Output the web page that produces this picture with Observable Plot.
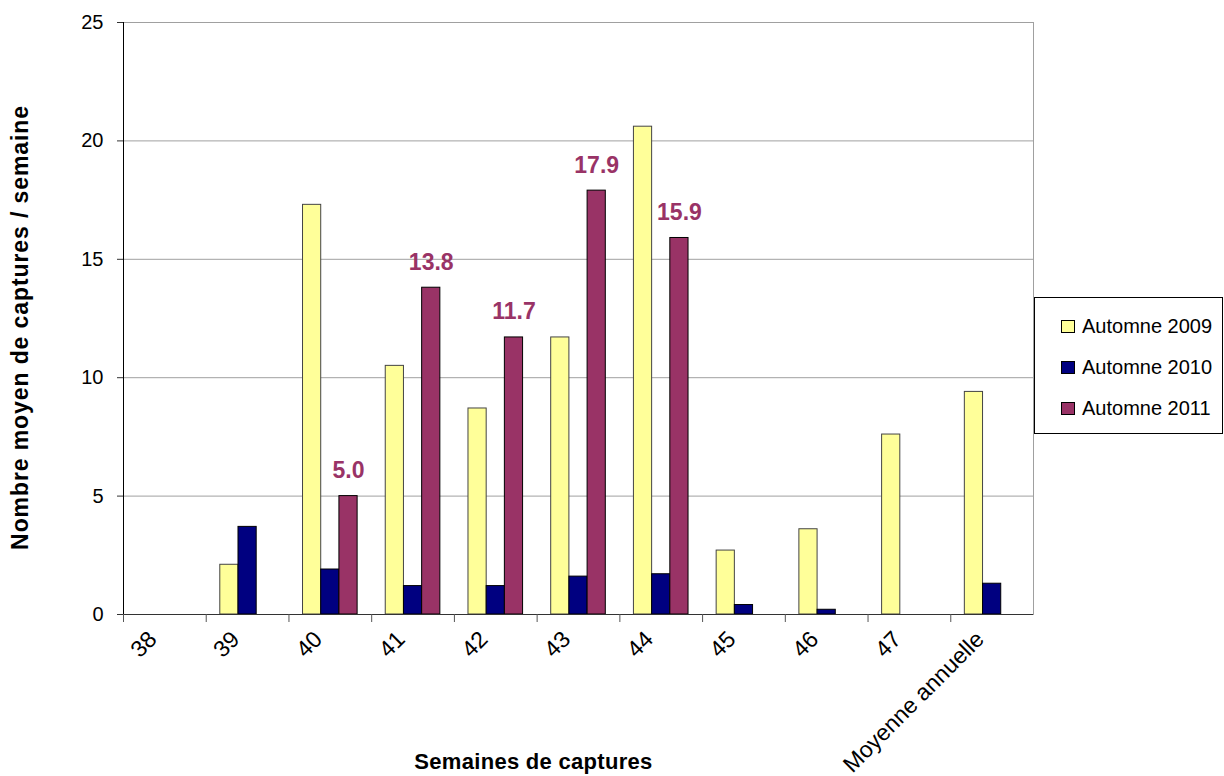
<!DOCTYPE html>
<html><head><meta charset="utf-8">
<script src="https://cdn.jsdelivr.net/npm/d3@7"></script>
<script src="https://cdn.jsdelivr.net/npm/@observablehq/plot@0.6"></script>
<style>
body{margin:0;background:#fff;font-family:"Liberation Sans",Arial,sans-serif;}
#wrap{position:relative;width:1224px;height:776px;overflow:hidden;}
#legend{position:absolute;left:1034px;top:297px;width:189px;height:137px;border:1px solid #000;box-sizing:border-box;background:#fff;}
.item{position:absolute;left:26px;height:20px;display:flex;align-items:center;font-size:20px;color:#000;}
.sw{width:12px;height:11px;border:1px solid #000;margin-right:7px;}
</style></head>
<body><div id="wrap"><div id="chart"></div><div id="legend"></div></div>
<script>
const categories = ["38","39","40","41","42","43","44","45","46","47","Moyenne annuelle"];
const series = ["Automne 2009","Automne 2010","Automne 2011"];
const a2009 = [null, 2.1, 17.3, 10.5, 8.7, 11.7, 20.6, 2.7, 3.6, 7.6, 9.4];
const a2010 = [null, 3.7, 1.9, 1.2, 1.2, 1.6, 1.7, 0.4, 0.2, null, 1.3];
const a2011 = [null, null, 5.0, 13.8, 11.7, 17.9, 15.9, null, null, null, null];
const colors = ["#FFFF99","#000080","#993366"];
const strokes = ["#444","#000","#000"];
const yTicks = [0,5,10,15,20,25];
const yTitle = "Nombre moyen de captures / semaine";
const xTitle = "Semaines de captures";

const values = [a2009, a2010, a2011];
const data = categories.flatMap((c, i) => values.map((arr, k) => ({cat: c, series: series[k], k, value: arr[i]})))
  .filter(d => d.value != null);

const W = 1224, H = 776, mL = 123, mR = 191, mT = 22, mB = 162;
const bw = (W - mL - mR) / categories.length;
const barW = bw * 0.22, off = (bw - 3 * barW) / 2;
const slot = k => ({insetLeft: off + k * barW, insetRight: bw - off - (k + 1) * barW});

const chart = Plot.plot({
  width: W, height: H,
  marginLeft: mL, marginRight: mR, marginTop: mT, marginBottom: mB,
  style: {fontFamily: "Liberation Sans, Arial, sans-serif", fontSize: "20px", color: "#000", background: "#fff", overflow: "visible"},
  x: {domain: categories, padding: 0, round: false, axis: null},
  y: {domain: [0, 25], axis: null},
  marks: [
    Plot.gridY(yTicks.slice(1), {stroke: "#a0a0a0", strokeOpacity: 1}),
    Plot.frame({stroke: "#a0a0a0"}),
    ...series.map((s, k) => Plot.barY(data.filter(d => d.k === k), {
      x: "cat", y: "value", fill: colors[k], stroke: strokes[k], strokeWidth: 1, ...slot(k)
    })),
    Plot.text(data.filter(d => d.k === 2), {
      x: "cat", y: "value", text: d => d.value.toFixed(1), dx: barW, dy: -18,
      lineAnchor: "bottom", fill: "#993366", fontWeight: "bold", fontSize: 23
    }),
    Plot.ruleY([0], {stroke: "#333"}),
    Plot.frame({anchor: "left", stroke: "#000"}),
    Plot.axisY({ticks: yTicks, tickSize: 6, tickPadding: 14, fontSize: 20, label: null, stroke: "#333"}),
    Plot.axisX({tickSize: 8, tickFormat: () => "", dx: -bw / 2, label: null, stroke: "#555"}),
    Plot.axisX({tickSize: 0, tickRotate: -45, tickPadding: 21, dx: -12, fontSize: 23, label: null}),
    Plot.text([yTitle], {
      text: d => d, frameAnchor: "left", textAnchor: "middle", lineAnchor: "middle",
      dx: -103, dy: 9, rotate: -90, fontWeight: "bold", fontSize: 23
    }),
    Plot.text([xTitle], {
      text: d => d, frameAnchor: "bottom", textAnchor: "middle", lineAnchor: "middle",
      dx: -45, dy: 147, fontWeight: "bold", fontSize: 22
    })
  ]
});
document.getElementById("chart").append(chart);

// widen title letter spacing slightly, like the reference's rendering
d3.select(chart).selectAll("text").each(function() {
  const t = this.textContent;
  if (t === yTitle) this.setAttribute("letter-spacing", "0.9");
  else if (t === xTitle) this.setAttribute("letter-spacing", "0.3");
});

const legend = document.getElementById("legend");
series.forEach((s, k) => {
  const it = document.createElement("div");
  it.className = "item";
  it.style.top = (18 + k * 41) + "px";
  it.innerHTML = `<span class="sw" style="background:${colors[k]}"></span><span>${s}</span>`;
  legend.append(it);
});
</script></body></html>
